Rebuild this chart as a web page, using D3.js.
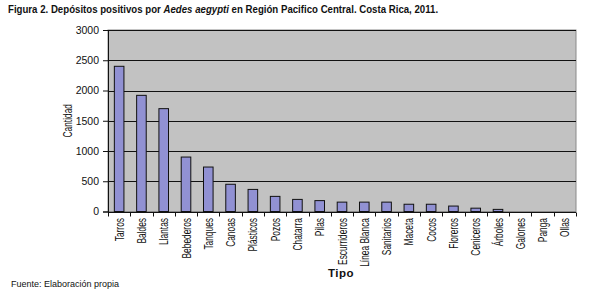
<!DOCTYPE html>
<html><head><meta charset="utf-8">
<script src="https://cdn.jsdelivr.net/npm/d3@7"></script>
<style>body{margin:0;background:#fff}svg{display:block}</style>
</head><body>
<script>
const categories = ["Tarros","Baldes","Llantas","Bebederos","Tanques","Canoas","Plásticos","Pozos","Chatarra","Pilas","Escurrideros","Línea Blanca","Sanitarios","Maceta","Cocos","Floreros","Ceniceros","Árboles","Galones","Panga","Ollas"];
const values = [2400,1920,1700,900,735,450,365,250,200,180,155,155,155,120,120,90,55,35,0,0,0];
const yTicks = [0,500,1000,1500,2000,2500,3000];

const W=594,H=295;
const m={l:108,r:18,t:30,b:84};
const FONT="Liberation Sans, Arial, sans-serif";
const svg=d3.select("body").append("svg").attr("width",W).attr("height",H);
const x=d3.scaleBand().domain(categories).range([m.l,W-m.r]).paddingInner(0.57).paddingOuter(0.285);
const xb=d3.scaleBand().domain(categories).range([m.l,W-m.r]);
const y=d3.scaleLinear().domain([0,3000]).range([H-m.b+0.5,m.t]);

svg.append("rect").attr("x",m.l).attr("y",m.t).attr("width",W-m.r-m.l).attr("height",y(0)-m.t).attr("fill","#c2c2c2").attr("stroke","#8a8a8a").attr("stroke-width",1);
svg.append("g").selectAll("line").data(yTicks.filter(d=>d>0)).join("line")
 .attr("x1",m.l).attr("x2",W-m.r).attr("y1",d=>Math.round(y(d))+0.5).attr("y2",d=>Math.round(y(d))+0.5).attr("stroke","#111").attr("stroke-width",1);

svg.append("g").selectAll("rect").data(categories).join("rect")
 .attr("x",(d)=>x(d)).attr("width",x.bandwidth())
 .attr("y",(d,i)=>y(values[i])).attr("height",(d,i)=>y(0)-y(values[i]))
 .attr("fill","#9191d3").attr("stroke","#111").attr("stroke-width",1)
 .attr("display",(d,i)=>values[i]>0?null:"none");

const ya=d3.axisLeft(y).tickValues(yTicks).tickSize(5).tickPadding(4).tickFormat(d3.format("d"));
const gy=svg.append("g").attr("transform",`translate(${m.l},0)`).call(ya);
gy.select(".domain").attr("stroke","#111");
gy.selectAll("line").attr("stroke","#111");
gy.selectAll("text").attr("font-family",FONT).attr("font-size","10.5px").attr("fill","#111");

const baseY=Math.round(y(0))+0.5;
svg.append("line").attr("x1",m.l).attr("x2",W-m.r).attr("y1",baseY).attr("y2",baseY).attr("stroke","#111");
const bounds=categories.map(c=>xb(c)).concat([W-m.r]);
svg.append("g").selectAll("line").data(bounds).join("line")
 .attr("x1",d=>Math.round(d)+0.5).attr("x2",d=>Math.round(d)+0.5).attr("y1",baseY).attr("y2",baseY+4).attr("stroke","#111");

svg.append("g").selectAll("text").data(categories).join("text")
 .attr("transform",d=>`translate(${xb(d)+xb.bandwidth()/2+4.5},${baseY+5.5}) rotate(-90) scale(0.67,1)`)
 .attr("text-anchor","end").attr("font-family",FONT)
 .attr("font-size","12.5px").attr("fill","#111").text(d=>d);

svg.append("text").attr("transform",`translate(71.5,${(m.t+y(0))/2}) rotate(-90) scale(0.67,1)`).attr("text-anchor","middle")
 .attr("font-family",FONT).attr("font-size","12.5px").attr("fill","#111").text("Cantidad");

svg.append("text").attr("x",341).attr("y",277).attr("text-anchor","middle").attr("font-family",FONT)
 .attr("font-weight","bold").attr("font-size","11.5px").attr("letter-spacing","0.5px").attr("fill","#111").text("Tipo");

const t=svg.append("text").attr("transform","translate(8,12.5) scale(0.92,1)").attr("font-family",FONT).attr("font-weight","bold").attr("font-size","10.5px").attr("fill","#111");
t.append("tspan").text("Figura 2. Depósitos positivos por ");
t.append("tspan").attr("font-style","italic").text("Aedes aegypti");
t.append("tspan").text(" en Región Pacifico Central. Costa Rica, 2011.");

svg.append("text").attr("x",11).attr("y",287).attr("font-family",FONT).attr("font-size","9px").attr("fill","#111").text("Fuente: Elaboración propia");
</script>
</body></html>
